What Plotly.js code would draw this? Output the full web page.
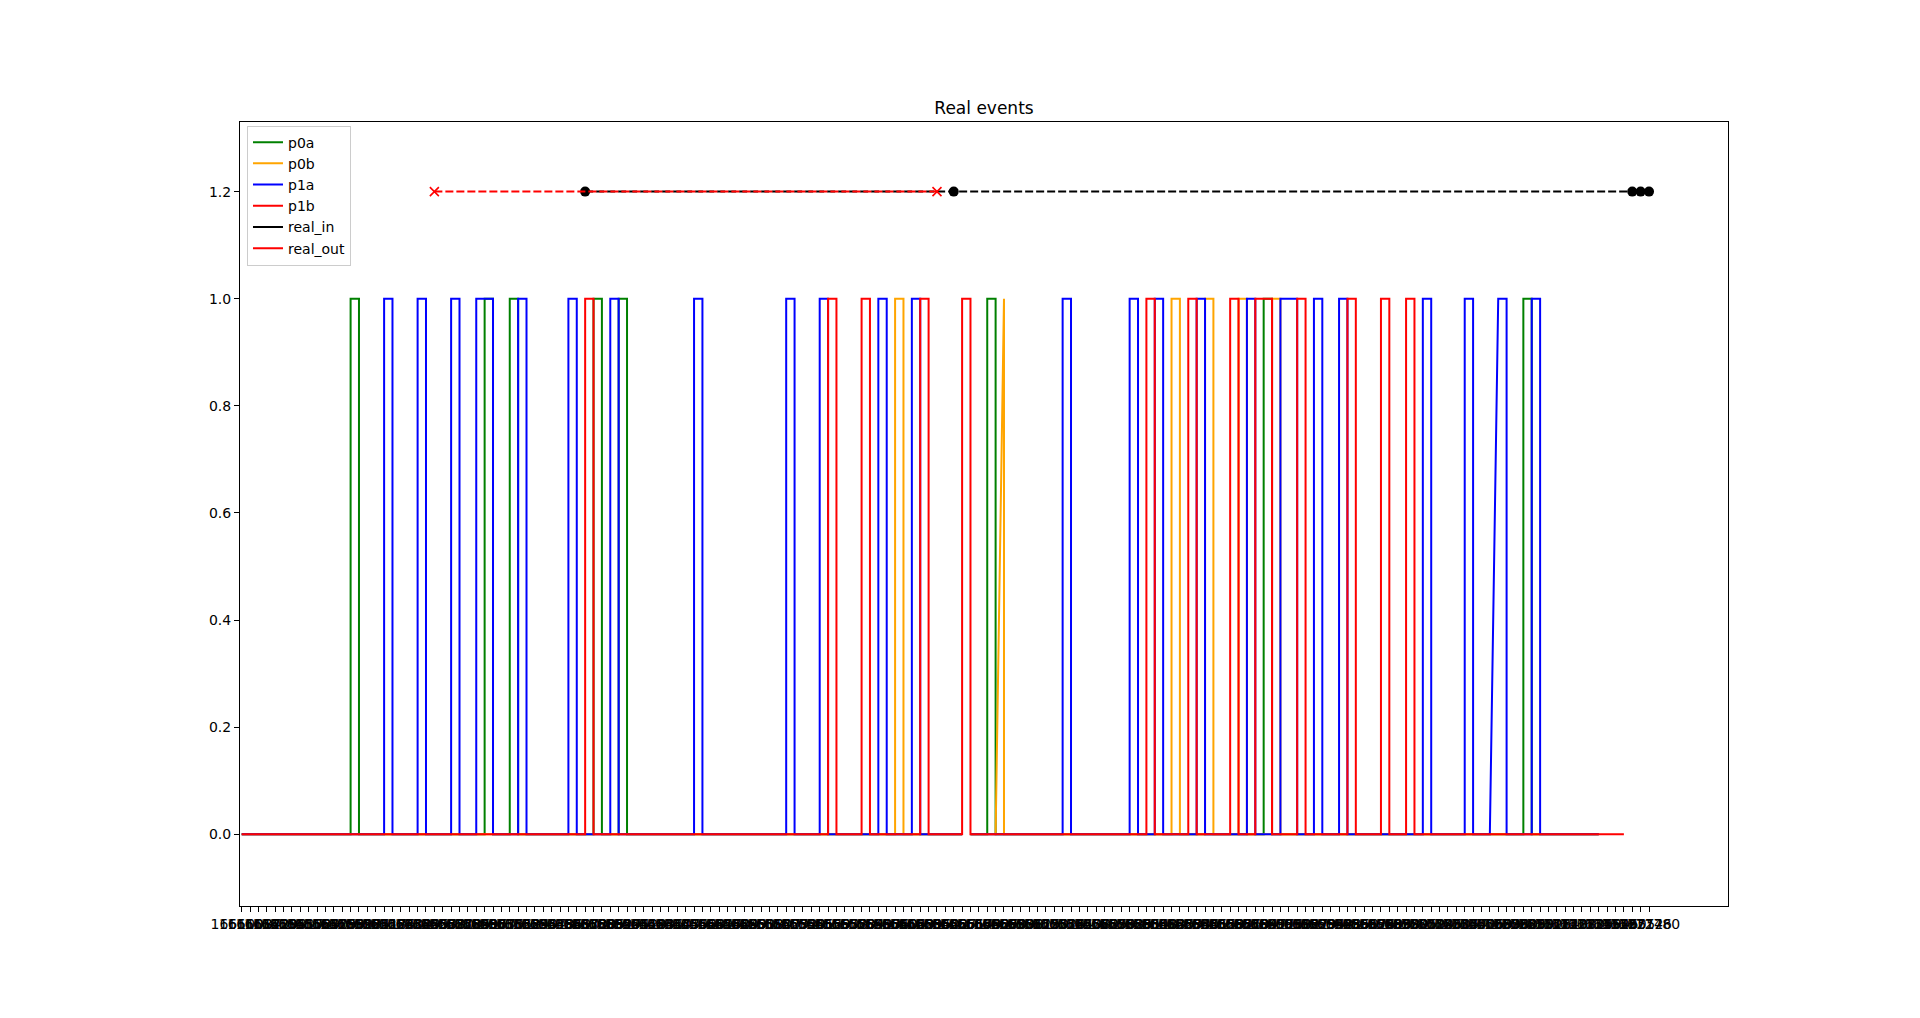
<!DOCTYPE html>
<html>
<head>
<meta charset="utf-8">
<script src="https://cdn.plot.ly/plotly-3.0.1.min.js"></script>
<style>html,body{margin:0;padding:0;background:#fff;}#chart{width:1920px;height:1018px;}</style>
</head>
<body>
<div id="chart"></div>
<script>
// Category tick labels (event timestamps, in order along the x axis)
const tickLabels = [
"1661003","1661087","1661142","1661230","1661298","1661351","1661437","1661502","1661589","1661640","1661725","1661793","1661860",
"1661918","1661974","1662051","1662117","1662186","1662240","1662312","1662389","1662445","1662503","1662578","1662630","1662712",
"1662785","1662841","1662906","1662977","1663035","1663101","1663168","1663224","1663290","1663357","1663418","1663486","1663549",
"1663610","1663672","1663738","1663805","1663861","1663927","1663994","1664052","1664119","1664183","1664246","1664310","1664377",
"1664435","1664502","1664568","1664631","1664697","1664760","1664824","1664889","1664953","1665018","1665080","1665147","1665209",
"1665272","1665338","1665401","1665466","1665529","1665593","1665658","1665720","1665784","1665849","1665913","1665976","1666040",
"1666104","1666169","1666231","1666295","1666360","1666422","1666487","1666551","1666614","1666679","1666742","1666806","1666870",
"1666933","1666998","1667061","1667125","1667190","1667252","1667316","1667381","1667443","1667508","1667572","1667635","1667699",
"1667763","1667826","1667891","1667954","1668018","1668083","1668145","1668209","1668274","1668336","1668401","1668465","1668528",
"1668592","1668656","1668719","1668784","1668847","1668911","1668976","1669038","1669102","1669167","1669229","1669294","1669358",
"1669421","1669485","1669550","1669612","1669676","1669741","1669803","1669868","1669932","1669995","1670059","1670124","1670186",
"1670250","1670315","1670377","1670442","1670506","1670569","1670633","1670698","1670760","1670825","1670889","1670952","1671016",
"1671081","1671143","1671208","1671272","1671335","1671399","1671464","1671526","1671590","1671655","1672712","1672746","1672780"
];

// Pulses per channel, as category indices: rise starts (y=0), rise ends (y=1), fall
const p0a_rise0 = [13, 29, 32, 42, 45, 89, 122, 153];
const p0a_rise1 = [13, 29, 32, 42, 45, 89, 122, 153];
const p0a_fall  = [14, 30, 33, 43, 46, 90, 123, 154];

const p0b_rise0 = [78, 90, 111, 115, 119, 123];
const p0b_rise1 = [78, 91, 111, 115, 119, 123];
const p0b_fall  = [79, 91, 112, 116, 120, 124];

const p1a_rise0 = [17, 21, 25, 28, 33, 39, 44, 54, 65, 69, 76, 80, 98, 106, 109, 114, 120, 124, 128, 131, 141, 146, 149, 154];
const p1a_rise1 = [17, 21, 25, 28, 33, 39, 44, 54, 65, 69, 76, 80, 98, 106, 109, 114, 120, 124, 128, 131, 141, 146, 150, 154];
const p1a_fall  = [18, 22, 26, 30, 34, 40, 45, 55, 66, 70, 77, 81, 99, 107, 110, 115, 121, 126, 129, 132, 142, 147, 151, 155];

const p1b_rise0 = [41, 70, 74, 81, 86, 108, 113, 118, 121, 126, 132, 136, 139];
const p1b_rise1 = [41, 70, 74, 81, 86, 108, 113, 118, 121, 126, 132, 136, 139];
const p1b_fall  = [42, 71, 75, 82, 87, 109, 114, 119, 123, 127, 133, 137, 140];

// Start / end of each channel trace and baseline gap
const chStart = 0;
const chEnd   = {p0a: 162, p0b: 162, p1a: 162, p1b: 165};
const chGap   = [86, 87];

// Real events (category indices) at level 1.2
const real_in_x  = [41, 85, 166, 167, 168];
const real_in_y  = [1.2, 1.2, 1.2, 1.2, 1.2];
const real_out_x = [23, 83];
const real_out_y = [1.2, 1.2];

function buildStep(r0, r1, f, end, gap) {
  const x = [chStart], y = [0];
  let gapDone = !gap;
  for (let i = 0; i < r0.length; i++) {
    if (!gapDone && r0[i] > gap[0]) {
      x.push(gap[0], null, gap[1]); y.push(0, null, 0); gapDone = true;
    }
    x.push(r0[i], r1[i], f[i], f[i]);
    y.push(0, 1, 1, 0);
  }
  if (!gapDone) { x.push(gap[0], null, gap[1]); y.push(0, null, 0); }
  x.push(end); y.push(0);
  return {x, y};
}

const FONT = "DejaVu Sans, Verdana, sans-serif";
const s0a = buildStep(p0a_rise0, p0a_rise1, p0a_fall, chEnd.p0a, chGap);
const s0b = buildStep(p0b_rise0, p0b_rise1, p0b_fall, chEnd.p0b, chGap);
const s1a = buildStep(p1a_rise0, p1a_rise1, p1a_fall, chEnd.p1a, chGap);
const s1b = buildStep(p1b_rise0, p1b_rise1, p1b_fall, chEnd.p1b, null);

const LW = 2;
const traces = [
  {x: s0a.x, y: s0a.y, mode: 'lines', name: 'p0a', line: {color: '#008000', width: LW}, connectgaps: false},
  {x: s0b.x, y: s0b.y, mode: 'lines', name: 'p0b', line: {color: '#FFA500', width: LW}, connectgaps: false},
  {x: s1a.x, y: s1a.y, mode: 'lines', name: 'p1a', line: {color: '#0000FF', width: LW}, connectgaps: false},
  {x: s1b.x, y: s1b.y, mode: 'lines', name: 'p1b', line: {color: '#FF0000', width: LW}, connectgaps: false},
  {x: [null], y: [null], mode: 'lines', name: 'real_in', line: {color: '#000000', width: LW}},
  {x: [null], y: [null], mode: 'lines', name: 'real_out', line: {color: '#FF0000', width: LW}},
  {x: real_in_x, y: real_in_y, mode: 'lines+markers', showlegend: false,
   line: {color: '#000000', width: LW, dash: '8px,3px'},
   marker: {symbol: 'circle', size: 10, color: '#000000'}},
  {x: real_out_x, y: real_out_y, mode: 'lines+markers', showlegend: false,
   line: {color: '#FF0000', width: LW, dash: '8px,3px'},
   marker: {symbol: 'x-thin-open', size: 9, color: '#FF0000', line: {color: '#FF0000', width: 1.6}}}
];

const tickIdx = tickLabels.map((_, i) => i);

const layout = {
  width: 1920, height: 1018,
  paper_bgcolor: '#ffffff', plot_bgcolor: '#ffffff',
  margin: {l: 240, r: 192, t: 122, b: 112, pad: 0},
  font: {family: FONT, size: 14, color: '#000000'},
  title: {text: 'Real events', font: {family: FONT, size: 17, color: '#000000'},
          x: 0.5, xref: 'paper', y: 1 - 108/1018, yref: 'container', yanchor: 'middle'},
  showlegend: true,
  legend: {x: 0.0047, y: 0.9955, xanchor: 'left', yanchor: 'top',
           bgcolor: 'rgba(255,255,255,0.8)', bordercolor: '#cccccc', borderwidth: 1,
           font: {family: FONT, size: 14, color: '#000000'}, tracegroupgap: 0},
  xaxis: {
    type: 'linear', range: [-0.203, 177.43], autorange: false,
    tickmode: 'array', tickvals: tickIdx, ticktext: tickLabels, tickangle: 0,
    ticks: 'outside', ticklen: 5, tickwidth: 1, tickcolor: '#000000',
    showgrid: false, zeroline: false,
    showline: true, linecolor: '#000000', linewidth: 1, mirror: true,
    tickfont: {family: FONT, size: 14, color: '#000000'}
  },
  yaxis: {
    type: 'linear', range: [-0.1341, 1.330], autorange: false,
    tickmode: 'array', tickvals: [0, 0.2, 0.4, 0.6, 0.8, 1.0, 1.2],
    ticktext: ['0.0', '0.2', '0.4', '0.6', '0.8', '1.0', '1.2'],
    ticks: 'outside', ticklen: 5, tickwidth: 1, tickcolor: '#000000',
    showgrid: false, zeroline: false,
    showline: true, linecolor: '#000000', linewidth: 1, mirror: true,
    tickfont: {family: FONT, size: 14, color: '#000000'}
  }
};

Plotly.newPlot('chart', traces, layout, {displayModeBar: false, staticPlot: true});
</script>
</body>
</html>
